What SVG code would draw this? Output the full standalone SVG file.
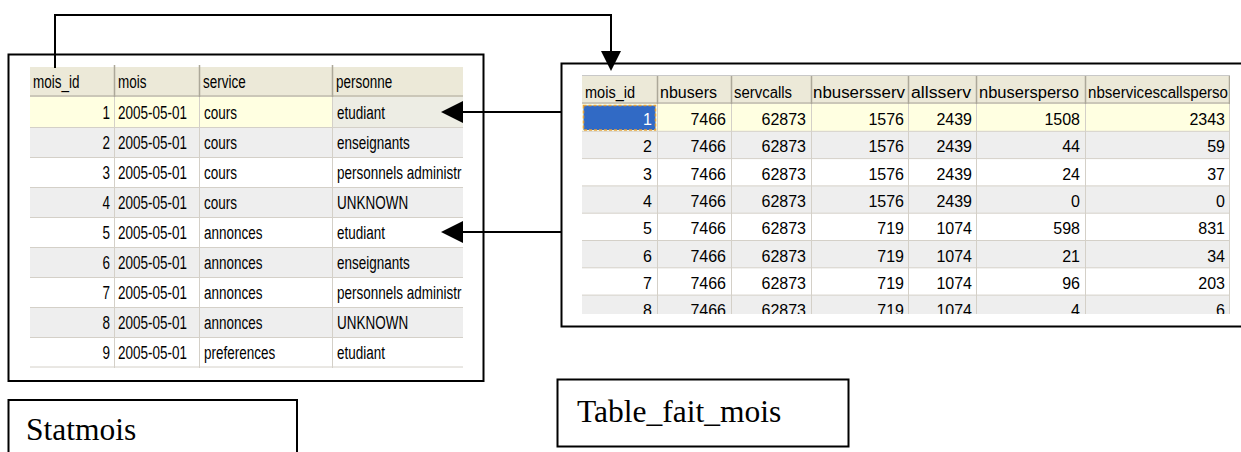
<svg xmlns="http://www.w3.org/2000/svg" width="1241" height="452" viewBox="0 0 1241 452">
<style>
.box{fill:none;stroke:#000;stroke-width:2}
.conn{fill:none;stroke:#000;stroke-width:2}
.ah{fill:#000}
.lt{font-family:"Liberation Sans",Arial,sans-serif;font-size:19px;fill:#000}
.rt{font-family:"Liberation Sans",Arial,sans-serif;font-size:16px;fill:#000}
.e{text-anchor:end}
.cap{font-family:"Liberation Serif","Times New Roman",serif;font-size:31.5px;fill:#000}
.hd{fill:#ECE9D8}
.y{fill:#FFFFE1}
.g{fill:#EEEEEE}
.w{fill:#FFFFFF}
.gl{stroke:#D4D0C8;stroke-width:1;fill:none}
.hs{stroke:#ACA899;stroke-width:1.5;fill:none}
.hb{stroke:#CBC7B8;stroke-width:2;fill:none}
</style>
<defs>
<clipPath id="clipL"><rect x="30" y="60" width="433" height="308"/></clipPath>
<clipPath id="clipR"><rect x="582" y="70" width="648" height="244"/></clipPath>
</defs>
<rect width="1241" height="452" fill="#fff"/>

<g id="statmois-table">
<rect class="box" x="8.5" y="54.5" width="475" height="326.5"/>
<g clip-path="url(#clipL)">
<rect class="hd" x="30" y="67" width="433" height="30"/>
<line class="hb" x1="30" y1="96" x2="463" y2="96"/>
<rect class="y" x="30" y="97" width="433" height="30"/>
<rect fill="#EDEDE4" x="333" y="97" width="130" height="30"/>
<rect class="g" x="30" y="127" width="433" height="30"/>
<rect class="w" x="30" y="157" width="433" height="30"/>
<rect class="g" x="30" y="187" width="433" height="30"/>
<rect class="w" x="30" y="217" width="433" height="30"/>
<rect class="g" x="30" y="247" width="433" height="30"/>
<rect class="w" x="30" y="277" width="433" height="30"/>
<rect class="g" x="30" y="307" width="433" height="30"/>
<rect class="w" x="30" y="337" width="433" height="30"/>
<path class="gl" d="M30,127.5H463M30,157.5H463M30,187.5H463M30,217.5H463M30,247.5H463M30,277.5H463M30,307.5H463M30,337.5H463M30,367H463M114.5,97V369M199.5,97V369M332.5,97V369"/>
<path class="hs" d="M114.5,65V97M199.5,65V97M332.5,65V97"/>
<text class="lt" transform="translate(33,88) scale(.71,1)">mois_id</text>
<text class="lt" transform="translate(118,88) scale(.71,1)">mois</text>
<text class="lt" transform="translate(203,88) scale(.71,1)">service</text>
<text class="lt" transform="translate(336,88) scale(.71,1)">personne</text>

<text class="lt e" transform="translate(110,119) scale(.71,1)">1</text>
<text class="lt" transform="translate(118,119) scale(.71,1)">2005-05-01</text>
<text class="lt" transform="translate(204,119) scale(.71,1)">cours</text>
<text class="lt" transform="translate(337,119) scale(.71,1)">etudiant</text>

<text class="lt e" transform="translate(110,149) scale(.71,1)">2</text>
<text class="lt" transform="translate(118,149) scale(.71,1)">2005-05-01</text>
<text class="lt" transform="translate(204,149) scale(.71,1)">cours</text>
<text class="lt" transform="translate(337,149) scale(.71,1)">enseignants</text>

<text class="lt e" transform="translate(110,179) scale(.71,1)">3</text>
<text class="lt" transform="translate(118,179) scale(.71,1)">2005-05-01</text>
<text class="lt" transform="translate(204,179) scale(.71,1)">cours</text>
<text class="lt" transform="translate(337,179) scale(.71,1)">personnels administr</text>

<text class="lt e" transform="translate(110,209) scale(.71,1)">4</text>
<text class="lt" transform="translate(118,209) scale(.71,1)">2005-05-01</text>
<text class="lt" transform="translate(204,209) scale(.71,1)">cours</text>
<text class="lt" transform="translate(337,209) scale(.71,1)">UNKNOWN</text>

<text class="lt e" transform="translate(110,239) scale(.71,1)">5</text>
<text class="lt" transform="translate(118,239) scale(.71,1)">2005-05-01</text>
<text class="lt" transform="translate(204,239) scale(.71,1)">annonces</text>
<text class="lt" transform="translate(337,239) scale(.71,1)">etudiant</text>

<text class="lt e" transform="translate(110,269) scale(.71,1)">6</text>
<text class="lt" transform="translate(118,269) scale(.71,1)">2005-05-01</text>
<text class="lt" transform="translate(204,269) scale(.71,1)">annonces</text>
<text class="lt" transform="translate(337,269) scale(.71,1)">enseignants</text>

<text class="lt e" transform="translate(110,299) scale(.71,1)">7</text>
<text class="lt" transform="translate(118,299) scale(.71,1)">2005-05-01</text>
<text class="lt" transform="translate(204,299) scale(.71,1)">annonces</text>
<text class="lt" transform="translate(337,299) scale(.71,1)">personnels administr</text>

<text class="lt e" transform="translate(110,329) scale(.71,1)">8</text>
<text class="lt" transform="translate(118,329) scale(.71,1)">2005-05-01</text>
<text class="lt" transform="translate(204,329) scale(.71,1)">annonces</text>
<text class="lt" transform="translate(337,329) scale(.71,1)">UNKNOWN</text>

<text class="lt e" transform="translate(110,359) scale(.71,1)">9</text>
<text class="lt" transform="translate(118,359) scale(.71,1)">2005-05-01</text>
<text class="lt" transform="translate(204,359) scale(.71,1)">preferences</text>
<text class="lt" transform="translate(337,359) scale(.71,1)">etudiant</text>
</g>
</g>

<g id="fait-mois-table">
<rect class="box" x="561.5" y="63.5" width="700" height="263"/>
<g clip-path="url(#clipR)">
<line stroke="#C8C8C8" stroke-width="1" x1="582" y1="75.5" x2="1230" y2="75.5"/>
<rect class="hd" x="582" y="76" width="648" height="28"/>
<line class="hb" x1="582" y1="103" x2="1230" y2="103"/>
<rect class="y" x="582" y="104" width="648" height="27.3"/>
<rect class="g" x="582" y="131.3" width="648" height="27.3"/>
<rect class="w" x="582" y="158.6" width="648" height="27.3"/>
<rect class="g" x="582" y="185.9" width="648" height="27.3"/>
<rect class="w" x="582" y="213.2" width="648" height="27.3"/>
<rect class="g" x="582" y="240.5" width="648" height="27.3"/>
<rect class="w" x="582" y="267.8" width="648" height="27.3"/>
<rect class="g" x="582" y="295.1" width="648" height="27.3"/>
<path class="gl" d="M582,131.3H1230M582,158.6H1230M582,185.9H1230M582,213.2H1230M582,240.5H1230M582,267.8H1230M582,295.1H1230M657.5,104V320M731.5,104V320M811.5,104V320M908.5,104V320M976.5,104V320M1085.5,104V320M1229.5,104V320"/>
<path class="hs" d="M657.5,76V104M731.5,76V104M811.5,76V104M908.5,76V104M976.5,76V104M1085.5,76V104M1229.5,76V104"/>
<rect x="583.5" y="105.5" width="72" height="24.5" fill="#316AC5" stroke="#E8A33D" stroke-width="1.5" stroke-dasharray="3,2"/>

<text class="rt" x="585" y="98" textLength="50" lengthAdjust="spacingAndGlyphs">mois_id</text>
<text class="rt" x="660" y="98" textLength="57" lengthAdjust="spacingAndGlyphs">nbusers</text>
<text class="rt" x="734" y="98" textLength="58" lengthAdjust="spacingAndGlyphs">servcalls</text>
<text class="rt" x="813" y="98" textLength="92" lengthAdjust="spacingAndGlyphs">nbusersserv</text>
<text class="rt" x="911" y="98" textLength="60" lengthAdjust="spacingAndGlyphs">allsserv</text>
<text class="rt" x="979" y="98" textLength="100" lengthAdjust="spacingAndGlyphs">nbusersperso</text>
<text class="rt" x="1088" y="98" textLength="140" lengthAdjust="spacingAndGlyphs">nbservicescallsperso</text>

<text class="rt e" x="652" y="125" style="fill:#fff">1</text>
<text class="rt e" x="726" y="125">7466</text>
<text class="rt e" x="806" y="125">62873</text>
<text class="rt e" x="904" y="125">1576</text>
<text class="rt e" x="972" y="125">2439</text>
<text class="rt e" x="1080" y="125">1508</text>
<text class="rt e" x="1225" y="125">2343</text>

<text class="rt e" x="652" y="152.3">2</text>
<text class="rt e" x="726" y="152.3">7466</text>
<text class="rt e" x="806" y="152.3">62873</text>
<text class="rt e" x="904" y="152.3">1576</text>
<text class="rt e" x="972" y="152.3">2439</text>
<text class="rt e" x="1080" y="152.3">44</text>
<text class="rt e" x="1225" y="152.3">59</text>

<text class="rt e" x="652" y="179.6">3</text>
<text class="rt e" x="726" y="179.6">7466</text>
<text class="rt e" x="806" y="179.6">62873</text>
<text class="rt e" x="904" y="179.6">1576</text>
<text class="rt e" x="972" y="179.6">2439</text>
<text class="rt e" x="1080" y="179.6">24</text>
<text class="rt e" x="1225" y="179.6">37</text>

<text class="rt e" x="652" y="206.9">4</text>
<text class="rt e" x="726" y="206.9">7466</text>
<text class="rt e" x="806" y="206.9">62873</text>
<text class="rt e" x="904" y="206.9">1576</text>
<text class="rt e" x="972" y="206.9">2439</text>
<text class="rt e" x="1080" y="206.9">0</text>
<text class="rt e" x="1225" y="206.9">0</text>

<text class="rt e" x="652" y="234.2">5</text>
<text class="rt e" x="726" y="234.2">7466</text>
<text class="rt e" x="806" y="234.2">62873</text>
<text class="rt e" x="904" y="234.2">719</text>
<text class="rt e" x="972" y="234.2">1074</text>
<text class="rt e" x="1080" y="234.2">598</text>
<text class="rt e" x="1225" y="234.2">831</text>

<text class="rt e" x="652" y="261.5">6</text>
<text class="rt e" x="726" y="261.5">7466</text>
<text class="rt e" x="806" y="261.5">62873</text>
<text class="rt e" x="904" y="261.5">719</text>
<text class="rt e" x="972" y="261.5">1074</text>
<text class="rt e" x="1080" y="261.5">21</text>
<text class="rt e" x="1225" y="261.5">34</text>

<text class="rt e" x="652" y="288.8">7</text>
<text class="rt e" x="726" y="288.8">7466</text>
<text class="rt e" x="806" y="288.8">62873</text>
<text class="rt e" x="904" y="288.8">719</text>
<text class="rt e" x="972" y="288.8">1074</text>
<text class="rt e" x="1080" y="288.8">96</text>
<text class="rt e" x="1225" y="288.8">203</text>

<text class="rt e" x="652" y="316.1">8</text>
<text class="rt e" x="726" y="316.1">7466</text>
<text class="rt e" x="806" y="316.1">62873</text>
<text class="rt e" x="904" y="316.1">719</text>
<text class="rt e" x="972" y="316.1">1074</text>
<text class="rt e" x="1080" y="316.1">4</text>
<text class="rt e" x="1225" y="316.1">6</text>
</g>
</g>

<g id="label-table-fait-mois">
<rect class="box" x="557.5" y="379.5" width="291" height="67"/>
<text class="cap" x="577" y="422">Table_fait_mois</text>
</g>

<g id="label-statmois">
<rect class="box" x="8.5" y="400" width="288.5" height="70"/>
<text class="cap" x="26" y="440">Statmois</text>
</g>

<g id="connectors">
<path class="conn" d="M55,68V15H611V53"/>
<polygon class="ah" points="601,51 621,51 611,71"/>
<path class="conn" d="M561,112H462"/>
<polygon class="ah" points="441,112 463,101 463,123"/>
<path class="conn" d="M561,232H462"/>
<polygon class="ah" points="441,232 463,221 463,243"/>
</g>
</svg>
